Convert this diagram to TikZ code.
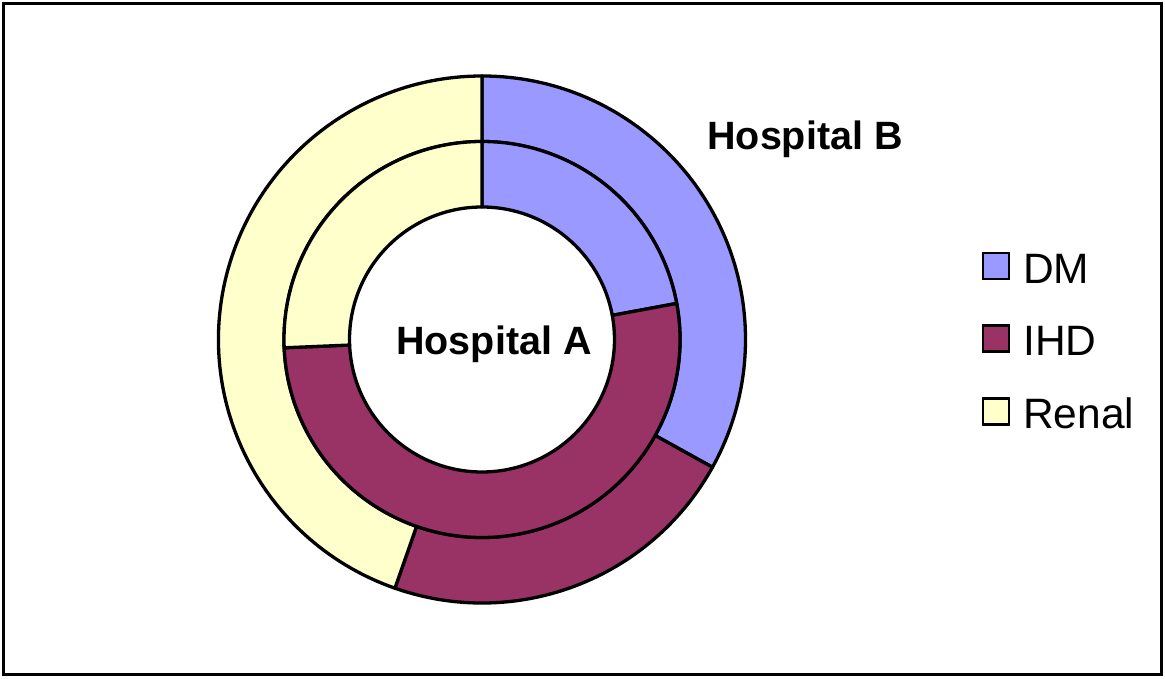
\documentclass[tikz,border=0pt]{standalone}
\usepackage{fontspec}
\setmainfont{Liberation Sans}
\usetikzlibrary{positioning}
\definecolor{dmblue}{HTML}{9999FF}
\definecolor{ihdplum}{HTML}{993366}
\definecolor{renalcream}{HTML}{FFFFCC}
% annular sector: [style](start:end:inner radius:outer radius)
\def\ringpart[#1](#2:#3:#4:#5){\draw[#1] (#2:#5) arc (#2:#3:#5) -- (#3:#4) arc (#3:#2:#4) -- cycle;}

\begin{document}
\begin{tikzpicture}[x=1pt,y=1pt,
    seg/.style={line width=3.3pt, line join=round},
    legbox/.style={draw, line width=2.6pt, minimum size=26pt, inner sep=0pt},
    legtext/.style={anchor=base west, inner sep=0pt, font=\fontsize{42.5}{50}\selectfont},
    hosptext/.style={anchor=base, inner sep=0pt, font=\fontsize{39.5}{47}\selectfont\bfseries}]
	%%%%% FRAME %%%%%
	\useasboundingbox (0,0) rectangle (1165,678);
	\draw[line width=3.5pt] (3.5,3.5) rectangle (1161.5,674.5);
	
	%%%%% RINGS %%%%%
	\begin{scope}[shift={(482,338.5)}]
		% outer ring: Hospital B
		\ringpart[seg, fill=dmblue](90:-29:198:263.5)
		\ringpart[seg, fill=ihdplum](-29:-109.3:198:263.5)
		\ringpart[seg, fill=renalcream](-109.3:-270:198:263.5)
		% inner ring: Hospital A
		\ringpart[seg, fill=dmblue](90:10.5:132.5:198)
		\ringpart[seg, fill=ihdplum](10.5:-177.6:132.5:198)
		\ringpart[seg, fill=renalcream](-177.6:-270:132.5:198)
	\end{scope}
	
	\node[hosptext] (hospb) at (805,528.7) {Hospital B};
	\node[hosptext] (hospa) at (494,323) {Hospital A};
	
	%%%%% LEGEND %%%%%
	\node[legbox, fill=dmblue] (dmbox) at (996,412) {};
	\node[legbox, fill=ihdplum] (ihdbox) at (996,339.3) {};
	\node[legbox, fill=renalcream] (renalbox) at (996,266.5) {};
	
	\node[legtext] (dmlab) at (1023,394.7) {DM};
	\node[legtext] (ihdlab) at (1023,322) {IHD};
	\node[legtext] (renallab) at (1023,249.3) {Renal};
\end{tikzpicture}
\end{document}
